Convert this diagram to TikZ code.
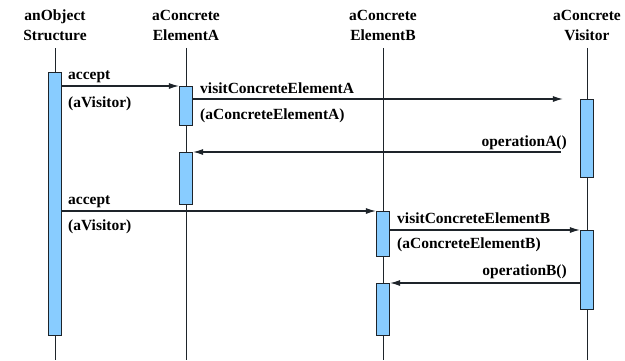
\documentclass[tikz,border=0pt]{standalone}
\usepackage{fontspec}
\setmainfont{Liberation Serif}[BoldFont={Liberation Serif Bold}]
\newfontfamily\tms{Liberation Serif}[BoldFont={Liberation Serif Bold}]
\usetikzlibrary{arrows.meta}
\definecolor{actfill}{RGB}{136,204,255}
\definecolor{ink}{RGB}{30,36,42}
\begin{document}
\begin{tikzpicture}[x=1pt,y=-1pt,
 hdr/.style={align=center,font=\tms\fontsize{15.5}{20}\selectfont\bfseries,inner sep=0pt,anchor=north},
 act/.style={draw=ink,fill=actfill,line width=1.2pt,minimum width=13pt,inner sep=0pt,anchor=north},
 life/.style={draw=ink,line width=1pt},
 msg/.style={draw=ink,line width=1.1pt,-{Latex[length=10pt,width=6pt]}},
 lbl/.style={font=\tms\fontsize{15.5}{18}\selectfont\bfseries,inner sep=0pt,anchor=base west},
 lblr/.style={lbl,anchor=base east}]
\useasboundingbox (0,0) rectangle (625,360);
\coordinate (bot) at (0,360);
% headers
\node[hdr] (h1) at (55,10) {anObject\\Structure};
\node[hdr] (h2) at (186,10) {aConcrete\\ElementA};
\node[hdr] (h3) at (383,10) {aConcrete\\ElementB};
\node[hdr] (h4) at (587,10) {aConcrete\\Visitor};
% lifelines
\foreach \h in {h1,h2,h3,h4}
  \draw[life] ([yshift=-7pt]\h.south) -- (\h.south |- bot);
% activation boxes
\node[act,minimum height=263pt] (obj) at (55,72) {};
\node[act,minimum height=39pt] (aA1) at (186,86) {};
\node[act,minimum height=52pt] (aA2) at (186,152) {};
\node[act,minimum height=78pt] (v1) at (587,99) {};
\node[act,minimum height=45pt] (bB1) at (383,211) {};
\node[act,minimum height=52pt] (bB2) at (383,283) {};
\node[act,minimum height=79pt] (v2) at (587,230) {};
% messages
\draw[msg] (obj.east |- aA1.north) -- (aA1.north west);
\draw[msg] (aA1.east |- v1.north) -- ([xshift=-17pt]v1.north west);
\draw[msg] ([xshift=-19pt]v1.west |- aA2.north) -- (aA2.north east);
\draw[msg] (obj.east |- bB1.north) -- (bB1.north west);
\draw[msg] (bB1.east |- v2.north) -- (v2.north west);
\draw[msg] (v2.west |- bB2.north) -- (bB2.north east);
% labels
\node[lbl] (l1) at (68,79) {accept};
\node[lbl] (l2) at (68,107) {(aVisitor)};
\node[lbl] (l3) at (200,93) {visitConcreteElementA};
\node[lbl] (l4) at (200,119) {(aConcreteElementA)};
\node[lblr] (l5) at (567,146) {operationA()};
\node[lbl] (l6) at (68,204) {accept};
\node[lbl] (l7) at (68,230) {(aVisitor)};
\node[lbl] (l8) at (397,223) {visitConcreteElementB};
\node[lbl] (l9) at (397,248) {(aConcreteElementB)};
\node[lblr] (l10) at (567,275) {operationB()};
\end{tikzpicture}
\end{document}
